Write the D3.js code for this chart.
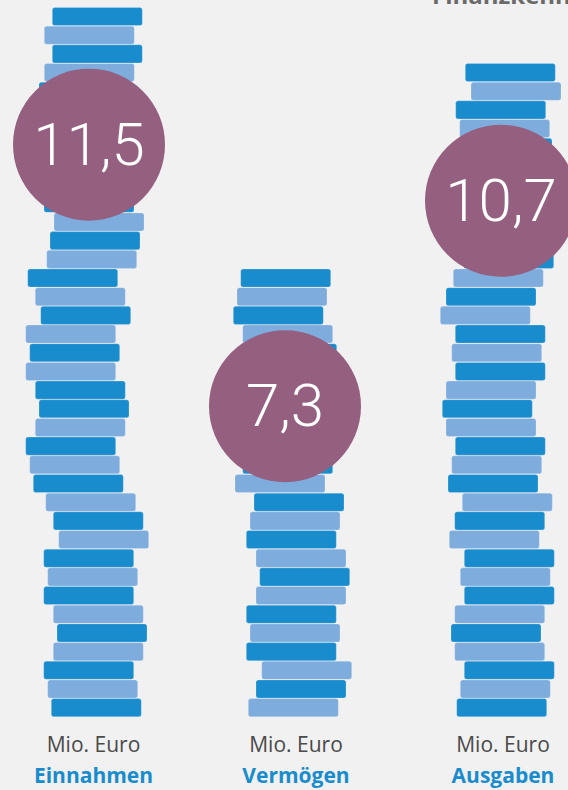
<!DOCTYPE html>
<html><head><meta charset="utf-8">
<script src="https://cdn.jsdelivr.net/npm/d3@7"></script>
<style>html,body{margin:0;padding:0;background:#f1f1f1;overflow:hidden} svg{display:block}</style>
</head><body>
<svg id="chart" width="568" height="790"></svg>
<script>
// ---- data ----
const categories = ["Einnahmen", "Vermögen", "Ausgaben"];
const values = [11.5, 7.3, 10.7];                 // Mio. Euro
const valueLabels = ["11,5", "7,3", "10,7"];
const unitLabel = "Mio. Euro";
const title = "Finanzkennzahlen";
const coinValue = 0.3;                              // Mio. Euro represented by one coin

// horizontal jitter of each coin (bottom -> top)
const shiftEinnahmen = [7.3, 3.7, -0.3, 9.3, 13, 9.3, -0.3, 3.7, -0.3, 14.7, 9.3, 1.7, -10.7, -14.3, -18.3, -8.7, -5, -8.7, -18.3, -14.3, -18.3, -3.3, -8.7, -16.3, 2.7, 6, 10, 0, -2, -8, 0, 4, -4, -5, 0.3, 8.3, 0.3, 8.3];
const shiftVermoegen = [8.3, 16, 21.7, 6.3, 10, 6.3, 16, 19.7, 16, 6.3, 10, 14, -5, 2.7, 0, 10, -4, 4, -2, 6.7, 2.7, -6.7, -3, 0.7];
const shiftAusgaben  = [0.7, 4.3, 8.3, -1.3, -5, -1.3, 8.3, 4.3, 8.3, -6.7, -1.3, 6.3, -8, -4.3, -0.7, -10, -13.7, -10, -0.7, -4.3, -0.7, -15.7, -10, -2.7, 7.7, -4, 2, -6, 10, 0, 6, 3.7, -0.3, 15, 9.3];

// tone of each coin (1 = dark, 0 = light), bottom -> top
const toneEinnahmen = [1,0,1,0,1,0,1,0,1,0,1,0,1,0,1,0,1,1,0,1,0,1,0,1,0,1,0,1,0,1,0,1,0,1,0,1,0,1];
const toneVermoegen = [0,1,0,1,0,1,0,1,0,1,0,1,0,1,0,1,0,1,0,1,0,1,0,1];
const toneAusgaben  = [1,0,1,0,1,0,1,0,1,0,1,0,1,0,1,0,1,0,1,0,1,0,1,0,1,0,1,0,1,0,1,0,1,0,1];

const shifts = [shiftEinnahmen, shiftVermoegen, shiftAusgaben];
const tones = [toneEinnahmen, toneVermoegen, toneAusgaben];

// ---- layout ----
const svg = d3.select("#chart");
const W = 568, H = 790;
svg.append("rect").attr("width", W).attr("height", H).attr("fill", "#f1f1f1");

const xStack = d3.scaleOrdinal().domain(categories).range([89, 285, 501]);
const xLabel = d3.scaleOrdinal().domain(categories).range([93.5, 296, 503]);
const coinPitch = 18.68;
const y = d3.scaleLinear().domain([0, 12]).range([717, 717 - (12 / coinValue) * coinPitch]);
const toneColor = d3.scaleOrdinal().domain([1, 0]).range(["#198ccd", "#7eacdd"]);
const coinW = 90;

const data = categories.map((c, j) => ({
  cat: c, value: values[j], label: valueLabels[j],
  n: Math.floor(values[j] / coinValue + 1e-6),
  shift: shifts[j], tone: tones[j]
}));

// title (cut at top edge in the original)
svg.append("text").attr("x", 432).attr("y", 4)
  .attr("font-family", "'Open Sans', sans-serif").attr("font-weight", 700)
  .attr("font-size", 24).attr("fill", "#6a6a6a").text(title);

data.forEach(d => {
  const cx = xStack(d.cat);
  const coins = d3.range(d.n).map(i => ({i, shift: d.shift[i], tone: d.tone[i]}));
  const g = svg.append("g");
  g.selectAll("rect.coin").data(coins).join("rect")
    .attr("class", "coin")
    .attr("x", c => cx + c.shift - coinW / 2)
    .attr("y", c => y((c.i + 1) * coinValue) + 0.3)
    .attr("width", coinW)
    .attr("height", c => y(c.i * coinValue) - y((c.i + 1) * coinValue) - 0.6)
    .attr("rx", 2.5)
    .attr("fill", c => toneColor(c.tone))
    .attr("stroke", "rgba(255,255,255,0.35)").attr("stroke-width", 0.6);

  const cy = y(d.n * coinValue) + 137.5;
  svg.append("circle").attr("cx", cx).attr("cy", cy).attr("r", 76).attr("fill", "#955f80");
  svg.append("text").attr("x", cx).attr("y", cy + 20)
    .attr("text-anchor", "middle")
    .attr("font-family", "Roboto, 'Open Sans', sans-serif").attr("font-weight", 300)
    .attr("font-size", 60).attr("fill", "#ffffff").text(d.label);

  svg.append("text").attr("x", xLabel(d.cat)).attr("y", 752.3)
    .attr("text-anchor", "middle")
    .attr("font-family", "'Open Sans', sans-serif").attr("font-weight", 400)
    .attr("font-size", 21).attr("fill", "#4a4a4a").text(unitLabel);
  svg.append("text").attr("x", xLabel(d.cat)).attr("y", 783.3)
    .attr("text-anchor", "middle")
    .attr("font-family", "'Open Sans', sans-serif").attr("font-weight", 700)
    .attr("font-size", 21).attr("fill", "#198ccd").text(d.cat);
});
</script>
</body></html>
